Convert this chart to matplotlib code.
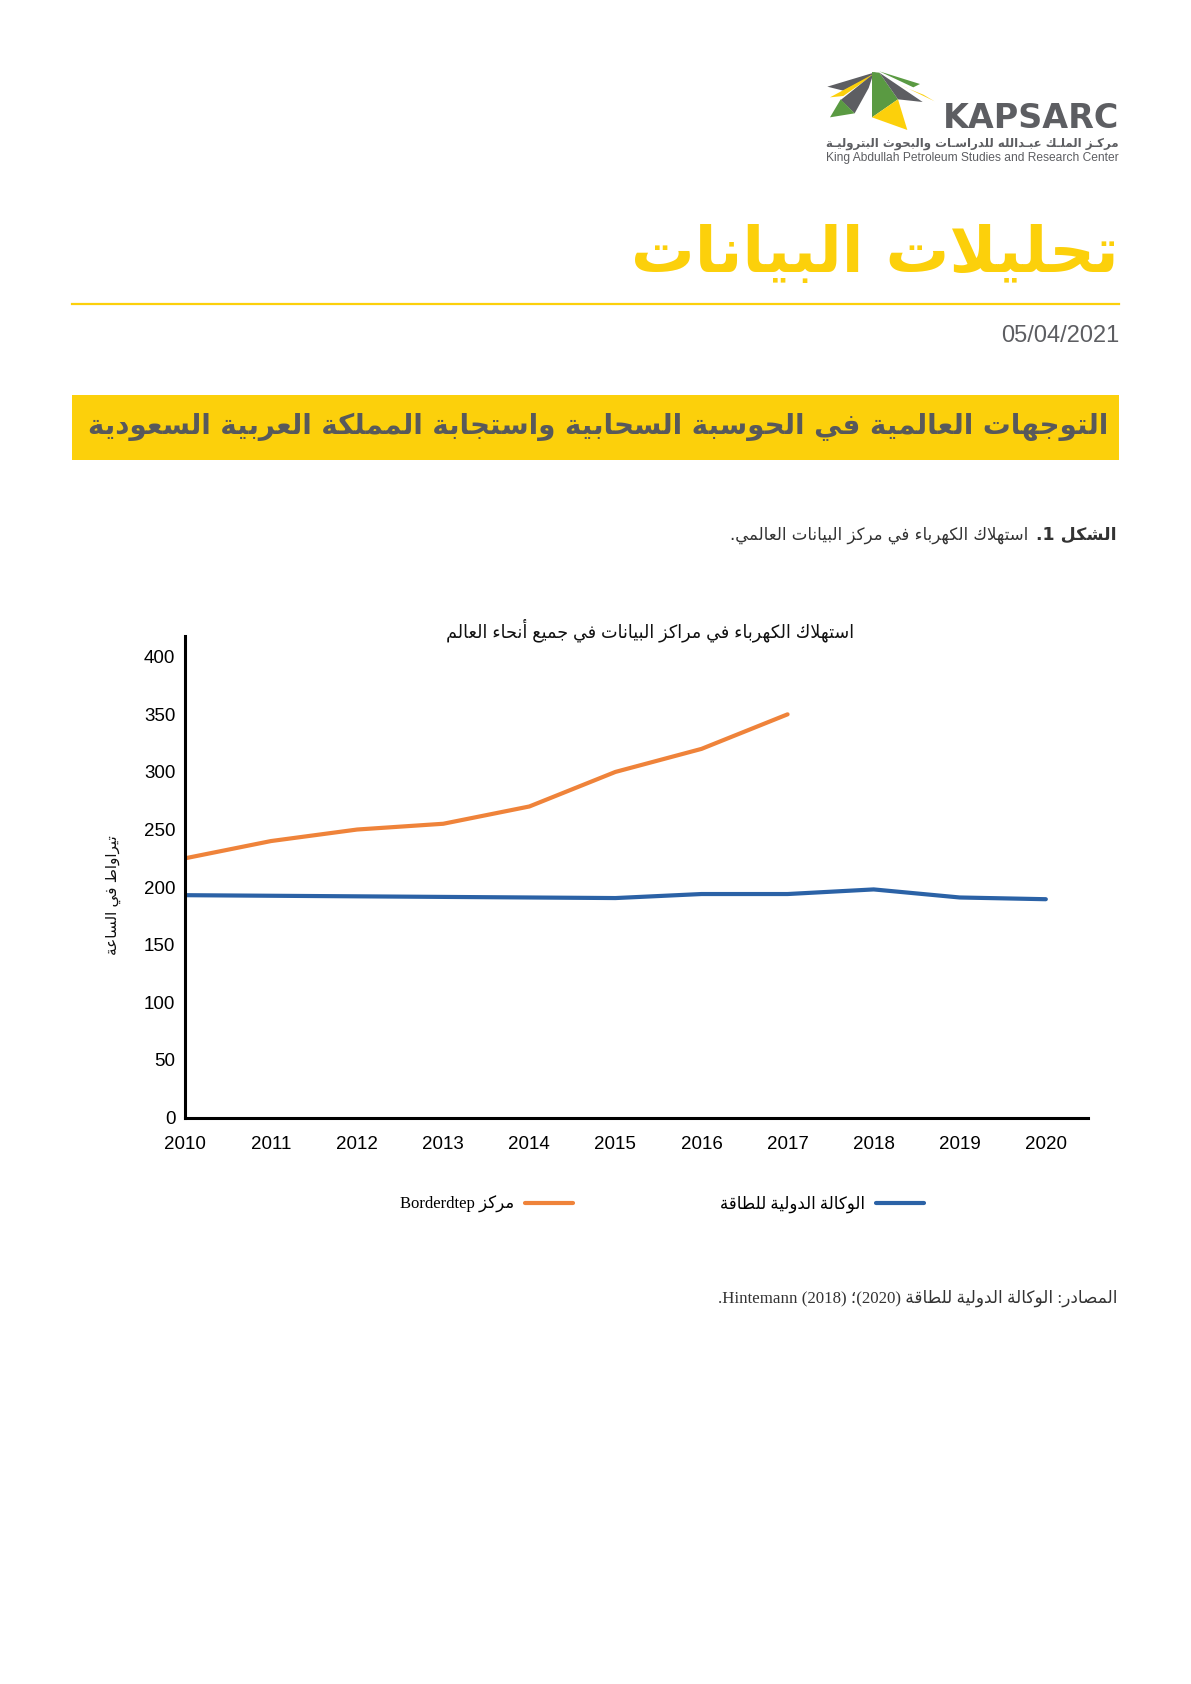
"""
KAPSARC data brief page: world data centre electricity use.
"""
import re

import matplotlib
matplotlib.use("Agg")
import matplotlib.pyplot as plt
from matplotlib.patches import Polygon, Rectangle

# ---- data ----
years = list(range(2010, 2021))
borderstep_years = list(range(2010, 2018))
borderstep = [225, 240, 250, 255, 270, 300, 320, 350]
iea = [193, 192.5, 192, 191.5, 191, 190.5, 194, 194, 198, 191, 189.5]
yticks = [0, 50, 100, 150, 200, 250, 300, 350, 400]

page_title = "تحليلات البيانات"
date_str = "05/04/2021"
banner = "التوجهات العالمية في الحوسبة السحابية واستجابة المملكة العربية السعودية"
fig_no = "الشكل 1."
fig_caption = "استهلاك الكهرباء في مركز البيانات العالمي."
chart_title = "استهلاك الكهرباء في مراكز البيانات في جميع أنحاء العالم"
ylabel = "تيراواط في الساعة"
label_iea = "الوكالة الدولية للطاقة"
label_borderstep = "مركز Borderdtep"
source = "المصادر: الوكالة الدولية للطاقة (2020)؛ Hintemann (2018)."
logo_ar = "مركـز الملـك عبـدالله للدراسـات والبحوث البتروليـة"
logo_en = "King Abdullah Petroleum Studies and Research Center"

YELLOW = "#FCD00B"
GREEN = "#5A9A42"
GRAY = "#5D5E62"
ORANGE = "#EF833A"
BLUE = "#2B62A6"

# ---- minimal arabic shaping + right-to-left ordering (matplotlib does neither) ----
# letter -> (isolated presentation form, number of forms)
FORMS = {
    "ء": (0xFE80, 1), "آ": (0xFE81, 2), "أ": (0xFE83, 2), "ؤ": (0xFE85, 2),
    "إ": (0xFE87, 2), "ئ": (0xFE89, 4), "ا": (0xFE8D, 2), "ب": (0xFE8F, 4),
    "ة": (0xFE93, 2), "ت": (0xFE95, 4), "ث": (0xFE99, 4), "ج": (0xFE9D, 4),
    "ح": (0xFEA1, 4), "خ": (0xFEA5, 4), "د": (0xFEA9, 2), "ذ": (0xFEAB, 2),
    "ر": (0xFEAD, 2), "ز": (0xFEAF, 2), "س": (0xFEB1, 4), "ش": (0xFEB5, 4),
    "ص": (0xFEB9, 4), "ض": (0xFEBD, 4), "ط": (0xFEC1, 4), "ظ": (0xFEC5, 4),
    "ع": (0xFEC9, 4), "غ": (0xFECD, 4), "ف": (0xFED1, 4), "ق": (0xFED5, 4),
    "ك": (0xFED9, 4), "ل": (0xFEDD, 4), "م": (0xFEE1, 4), "ن": (0xFEE5, 4),
    "ه": (0xFEE9, 4), "و": (0xFEED, 2), "ى": (0xFEEF, 2), "ي": (0xFEF1, 4),
    "ـ": (None, 4),
}
LAM_ALEF = {"ا": 0xFEFB, "أ": 0xFEF7, "إ": 0xFEF9, "آ": 0xFEF5}
MIRROR = {"(": ")", ")": "("}


def shape(s):
    out = []
    prev_joins = False
    i = 0
    while i < len(s):
        c = s[i]
        if c not in FORMS:
            out.append(c)
            prev_joins = False
            i += 1
            continue
        if c == "ل" and s[i + 1:i + 2] in LAM_ALEF and s[i + 1:i + 2] != "":
            out.append(chr(LAM_ALEF[s[i + 1]] + (1 if prev_joins else 0)))
            prev_joins = False
            i += 2
            continue
        base, k = FORMS[c]
        nxt = s[i + 1] if i + 1 < len(s) else ""
        join_next = k == 4 and nxt in FORMS and FORMS[nxt][1] != 1
        if base is None:
            out.append(c)
        elif k == 1:
            out.append(chr(base))
        else:
            form = {(False, False): 0, (True, False): 1,
                    (False, True): 2, (True, True): 3}[(prev_joins, join_next)]
            out.append(chr(base + form))
        prev_joins = join_next
        i += 1
    return "".join(out)


def ar(s):
    s = shape(s)
    runs, pos = [], 0
    for m in re.finditer(r"[A-Za-z0-9]+(?:[ ./:()-]*[A-Za-z0-9]+)*", s):
        a, b = m.span()
        if s[a:b].count("(") > s[a:b].count(")") and s[b:b + 1] == ")":
            b += 1
        if a > pos:
            runs.append((s[pos:a], False))
        runs.append((s[a:b], True))
        pos = b
    if pos < len(s):
        runs.append((s[pos:], False))
    out = []
    for txt, ltr in reversed(runs):
        out.append(txt if ltr else "".join(MIRROR.get(c, c) for c in reversed(txt)))
    return "".join(out)


def fit_width(t, width_px):
    # scale font size so the text spans width_px
    r = fig.canvas.get_renderer()
    w = t.get_window_extent(r).width
    t.set_fontsize(t.get_fontsize() * width_px / w)


SANS = ["Liberation Sans", "DejaVu Sans"]
SERIF = ["Liberation Serif", "DejaVu Sans"]

W, H = 1191, 1684
fig = plt.figure(figsize=(W / 100, H / 100), dpi=100)

# page layer in pixel coordinates
page = fig.add_axes([0, 0, 1, 1])
page.set_xlim(0, W)
page.set_ylim(H, 0)
page.axis("off")

# logo mark
logo_polys = [
    ([(52, 80), (198, 36), (170, 56), (100, 92)], GRAY),
    ([(60, 112), (194, 40), (160, 66), (100, 108)], YELLOW),
    ([(92, 120), (190, 42), (176, 84), (134, 160)], GRAY),
    ([(60, 172), (92, 118), (134, 160)], GREEN),
    ([(186, 36), (208, 38), (264, 118), (186, 172)], GREEN),
    ([(186, 172), (264, 118), (292, 210)], YELLOW),
    ([(208, 38), (338, 126), (264, 118)], GRAY),
    ([(208, 34), (330, 72), (310, 82)], GREEN),
    ([(262, 70), (374, 124), (340, 104), (290, 84)], YELLOW),
]
for pts, col in logo_polys:
    page.add_patch(Polygon([(810 + x / 3, 60 + y / 3) for x, y in pts],
                           closed=True, facecolor=col, edgecolor="none"))
page.text(1119, 118, "KAPSARC", ha="right", va="center", fontsize=24,
          fontweight="bold", color=GRAY, family="DejaVu Sans")
page.text(1119, 144, ar(logo_ar), ha="right", va="center", fontsize=8.5,
          fontweight="bold", color=GRAY, family="DejaVu Sans")
page.text(1119, 158, logo_en, ha="right", va="center", fontsize=8.65,
          color=GRAY, family=SANS)

# title block
t_title = page.text(1119, 272, ar(page_title), ha="right", va="baseline",
                    fontsize=46, fontweight="bold", color=YELLOW, family="DejaVu Sans")
fit_width(t_title, 488)
page.plot([72, 1119], [304, 304], color=YELLOW, lw=1.6)
page.text(1119, 336, date_str, ha="right", va="center", fontsize=17,
          color=GRAY, family=SANS)

page.add_patch(Rectangle((72, 395), 1047, 65, facecolor=YELLOW, edgecolor="none"))
t_banner = page.text(1108, 427, ar(banner), ha="right", va="center", fontsize=20,
                     fontweight="bold", color="#58595B", family="DejaVu Sans")
fit_width(t_banner, 1020)

page.text(1117, 535, ar(fig_no), ha="right", va="center", fontsize=12.5,
          fontweight="bold", color="#333333", family="DejaVu Sans")
page.text(1028, 535, ar(fig_caption), ha="right", va="center", fontsize=12,
          color="#333333", family="DejaVu Sans")

page.text(650, 630, ar(chart_title), ha="center", va="center", fontsize=12.7,
          color="#111111", family=SANS)
page.text(113, 895, ar(ylabel), ha="center", va="center", rotation=90,
          fontsize=11, color="#111111", family=SANS)

page.text(1118, 1298, ar(source), ha="right", va="center", fontsize=12.2,
          color="#333333", family=SERIF)

# chart
x0, x1, y0, y1 = 185, 1088, 636, 1117.5
ax = fig.add_axes([x0 / W, 1 - y1 / H, (x1 - x0) / W, (y1 - y0) / H])
ax.plot(borderstep_years, borderstep, color=ORANGE, lw=3, solid_capstyle="round",
        label=ar(label_borderstep))
ax.plot(years, iea, color=BLUE, lw=3, solid_capstyle="round", label=ar(label_iea))
ax.set_xlim(2010, 2020.49)
ax.set_ylim(0, 418)
ax.set_xticks(years)
ax.set_yticks(yticks)
ax.tick_params(length=0, labelsize=13.5)
ax.tick_params(axis="x", pad=13)
ax.tick_params(axis="y", pad=7)
for lab in ax.get_xticklabels() + ax.get_yticklabels():
    lab.set_family(SANS)
for side in ["top", "right"]:
    ax.spines[side].set_visible(False)
for side in ["left", "bottom"]:
    ax.spines[side].set_linewidth(2.2)
    ax.spines[side].set_color("black")
ax.patch.set_alpha(0)

leg = ax.legend(loc="center", bbox_to_anchor=(662 / W, 1 - 1204 / H),
                bbox_transform=fig.transFigure, ncol=2, frameon=False,
                markerfirst=False, handlelength=2.9, handletextpad=0.65,
                columnspacing=8.8, prop={"family": SERIF, "size": 12})

fig.savefig("out.png", dpi=100)
